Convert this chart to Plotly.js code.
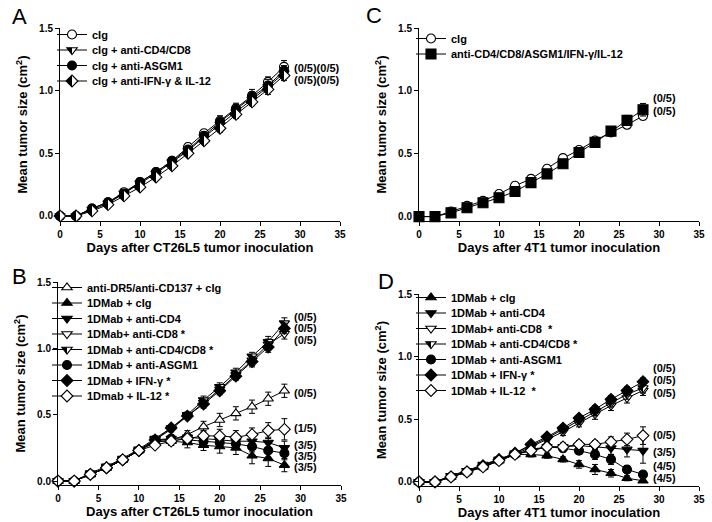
<!DOCTYPE html>
<html>
<head>
<meta charset="utf-8">
<script src="https://cdn.plot.ly/plotly-3.0.1.min.js"></script>
<style>html,body{margin:0;padding:0;background:#fff;}#chart{width:712px;height:522px;}</style>
</head>
<body>
<div id="chart"></div>
<script>
// ---------- DATA ----------
var days = [0,2,4,6,8,10,12,14,16,18,20,22,24,26,28];

// Panel A (CT26L5, control groups)
var aNames = ["cIg", "cIg + anti-CD4/CD8", "cIg + anti-ASGM1", "cIg + anti-IFN-γ & IL-12"];
var aClg   = [0,0,0.06,0.11,0.19,0.27,0.35,0.44,0.55,0.66,0.76,0.86,0.96,1.07,1.19];
var aCD48  = [0,0,0.05,0.10,0.18,0.26,0.34,0.43,0.52,0.63,0.73,0.83,0.93,1.03,1.14];
var aASGM1 = [0,0,0.06,0.11,0.18,0.27,0.35,0.44,0.53,0.64,0.75,0.85,0.95,1.04,1.16];
var aIFN   = [0,0,0.04,0.09,0.16,0.23,0.31,0.40,0.50,0.60,0.70,0.81,0.91,1.01,1.12];
var aClgErr   = [0,0,0.01,0.01,0.02,0.02,0.02,0.02,0.03,0.03,0.04,0.04,0.05,0.04,0.05];
var aCD48Err  = [0,0,0.01,0.01,0.01,0.02,0.02,0.02,0.02,0.03,0.03,0.03,0.04,0.04,0.04];
var aASGM1Err = [0,0,0.01,0.01,0.01,0.02,0.02,0.02,0.02,0.03,0.03,0.04,0.04,0.05,0.04];
var aIFNErr   = [0,0,0.01,0.01,0.01,0.01,0.02,0.02,0.02,0.02,0.03,0.03,0.03,0.04,0.04];
var aLabels = ["(0/5)(0/5)", "(0/5)(0/5)"];
var aLabelY = [1.18, 1.085];

// Panel C (4T1, control groups)
var cNames = ["cIg", "anti-CD4/CD8/ASGM1/IFN-γ/IL-12"];
var cClg = [0,0,0.04,0.085,0.125,0.18,0.245,0.30,0.38,0.465,0.53,0.605,0.67,0.73,0.80];
var cAll = [0,0,0.03,0.07,0.11,0.15,0.20,0.27,0.34,0.42,0.51,0.59,0.68,0.765,0.85];
var cClgErr = [0,0,0.01,0.01,0.01,0.01,0.01,0.01,0.02,0.02,0.02,0.02,0.03,0.03,0.03];
var cAllErr = [0,0,0.01,0.01,0.01,0.01,0.01,0.01,0.01,0.02,0.02,0.02,0.03,0.04,0.05];
var cLabels = ["(0/5)", "(0/5)"];
var cLabelY = [0.94, 0.84];

// Panel B (CT26L5, 1DMab)
var bNames = ["anti-DR5/anti-CD137 + cIg", "1DMab + cIg", "1DMab + anti-CD4", "1DMab+ anti-CD8 *",
              "1DMab + anti-CD4/CD8 *", "1DMab + anti-ASGM1", "1DMab + IFN-γ *", "1Dmab + IL-12 *"];
var bDR5   = [0,0,0.05,0.10,0.16,0.23,0.29,0.31,0.35,0.41,0.46,0.51,0.56,0.62,0.68];
var bClg   = [0,0,0.05,0.10,0.16,0.23,0.30,0.30,0.29,0.27,0.26,0.25,0.19,0.17,0.12];
var bCD4   = [0,0,0.05,0.10,0.16,0.23,0.31,0.32,0.33,0.32,0.31,0.30,0.30,0.29,0.25];
var bCD8   = [0,0,0.05,0.10,0.16,0.23,0.31,0.39,0.49,0.59,0.69,0.80,0.91,1.03,1.11];
var bCD48  = [0,0,0.06,0.11,0.17,0.24,0.32,0.40,0.50,0.61,0.71,0.82,0.94,1.05,1.19];
var bASGM1 = [0,0,0.05,0.10,0.16,0.23,0.30,0.32,0.31,0.30,0.29,0.28,0.26,0.23,0.21];
var bIFN   = [0,0,0.05,0.10,0.16,0.23,0.31,0.40,0.49,0.58,0.68,0.79,0.90,1.01,1.15];
var bIL12  = [0,0,0.05,0.10,0.16,0.23,0.27,0.30,0.32,0.34,0.34,0.33,0.35,0.38,0.39];
var bDR5Err   = [0,0,0.01,0.01,0.01,0.02,0.02,0.02,0.03,0.04,0.05,0.05,0.05,0.05,0.05];
var bClgErr   = [0,0,0.01,0.01,0.01,0.02,0.02,0.03,0.04,0.04,0.05,0.05,0.06,0.06,0.05];
var bCD4Err   = [0,0,0.01,0.01,0.01,0.02,0.02,0.02,0.03,0.03,0.04,0.04,0.04,0.04,0.05];
var bCD8Err   = [0,0,0.01,0.01,0.01,0.02,0.02,0.02,0.02,0.02,0.03,0.03,0.04,0.04,0.04];
var bCD48Err  = [0,0,0.01,0.01,0.01,0.02,0.02,0.02,0.02,0.03,0.03,0.03,0.03,0.04,0.04];
var bASGM1Err = [0,0,0.01,0.01,0.01,0.02,0.02,0.02,0.03,0.03,0.04,0.04,0.04,0.05,0.05];
var bIFNErr   = [0,0,0.01,0.01,0.01,0.02,0.02,0.02,0.02,0.03,0.03,0.03,0.04,0.04,0.04];
var bIL12Err  = [0,0,0.01,0.01,0.01,0.02,0.02,0.03,0.03,0.04,0.05,0.05,0.05,0.06,0.08];
var bLabels = ["(0/5)", "(0/5)", "(0/5)", "(0/5)", "(1/5)", "(3/5)", "(3/5)", "(3/5)"];
var bLabelY = [1.235, 1.15, 1.065, 0.66, 0.40, 0.275, 0.19, 0.105];

// Panel D (4T1, 1DMab)
var dNames = ["1DMab + cIg", "1DMab + anti-CD4", "1DMab+ anti-CD8  *", "1DMab + anti-CD4/CD8 *",
              "1DMab + anti-ASGM1", "1DMab + IFN-γ *", "1DMab + IL-12  *"];
var dClg   = [0,0,0.04,0.08,0.12,0.17,0.22,0.22,0.21,0.18,0.14,0.10,0.07,0.03,0.01];
var dCD4   = [0,0,0.04,0.08,0.12,0.17,0.22,0.25,0.28,0.28,0.29,0.28,0.27,0.26,0.25];
var dCD8   = [0,0,0.05,0.09,0.13,0.18,0.22,0.28,0.34,0.40,0.47,0.54,0.61,0.67,0.73];
var dCD48  = [0,0,0.05,0.09,0.14,0.18,0.23,0.29,0.35,0.42,0.49,0.56,0.63,0.70,0.75];
var dASGM1 = [0,0,0.04,0.08,0.12,0.17,0.22,0.26,0.28,0.27,0.25,0.22,0.18,0.10,0.06];
var dIFN   = [0,0,0.04,0.08,0.13,0.18,0.23,0.30,0.36,0.43,0.51,0.58,0.66,0.73,0.80];
var dIL12  = [0,0,0.04,0.08,0.12,0.17,0.22,0.25,0.28,0.28,0.30,0.30,0.32,0.34,0.37];
var dClgErr   = [0,0,0.01,0.01,0.01,0.01,0.02,0.02,0.02,0.02,0.03,0.04,0.03,0.02,0.01];
var dCD4Err   = [0,0,0.01,0.01,0.01,0.01,0.02,0.02,0.03,0.03,0.04,0.05,0.05,0.06,0.10];
var dCD8Err   = [0,0,0.01,0.01,0.01,0.01,0.02,0.02,0.02,0.03,0.03,0.04,0.04,0.04,0.04];
var dCD48Err  = [0,0,0.01,0.01,0.01,0.01,0.01,0.02,0.02,0.02,0.03,0.03,0.03,0.04,0.04];
var dASGM1Err = [0,0,0.01,0.01,0.01,0.01,0.02,0.02,0.02,0.03,0.03,0.04,0.04,0.03,0.02];
var dIFNErr   = [0,0,0.01,0.01,0.01,0.01,0.01,0.02,0.02,0.02,0.02,0.03,0.03,0.03,0.03];
var dIL12Err  = [0,0,0.01,0.01,0.01,0.01,0.02,0.02,0.02,0.03,0.03,0.03,0.04,0.05,0.07];
var dLabels = ["(0/5)", "(0/5)", "(0/5)", "(0/5)", "(3/5)", "(4/5)", "(4/5)"];
var dLabelY = [0.91, 0.81, 0.71, 0.375, 0.24, 0.125, 0.035];

var xTitles = ["Days after CT26L5 tumor inoculation", "Days after 4T1 tumor inoculation",
               "Days after CT26L5 tumor inoculation", "Days after 4T1 tumor inoculation"];
var yTitle = "Mean tumor size (cm<sup>2</sup>)";
var panelLetters = ["A", "C", "B", "D"];

// ---------- STYLES ----------
var FONT = "Liberation Sans, Arial, Helvetica, sans-serif";
var M = {
  openCircle:  {symbol: "circle", color: "white", size: 9},
  fillCircle:  {symbol: "circle", color: "black", size: 9},
  halfTriDown: {symbol: "triangle-down", color: "black", size: 9, gradient: {type: "horizontal", color: "white"}},
  halfDiamond: {symbol: "diamond", color: "black", size: 9, gradient: {type: "horizontal", color: "white"}},
  fillTriDown: {symbol: "triangle-down", color: "black", size: 9},
  openTriDown: {symbol: "triangle-down", color: "white", size: 9},
  fillTriUp:   {symbol: "triangle-up", color: "black", size: 9},
  openTriUp:   {symbol: "triangle-up", color: "white", size: 9},
  fillDiamond: {symbol: "diamond", color: "black", size: 9},
  openDiamond: {symbol: "diamond", color: "white", size: 9},
  fillSquare:  {symbol: "square", color: "black", size: 10}
};

function mk(name, y, err, style, ax, legend) {
  var mkr = JSON.parse(JSON.stringify(style));
  mkr.line = {color: "black", width: 1.1};
  return {
    type: "scatter", mode: "lines+markers", name: name,
    x: days, y: y,
    xaxis: "x" + ax, yaxis: "y" + ax, legend: legend,
    cliponaxis: false,
    line: {color: "black", width: 1},
    marker: mkr,
    error_y: {type: "data", array: err, visible: true, color: "black", thickness: 1, width: 3}
  };
}

var traces = [
  mk(aNames[0], aClg, aClgErr, M.openCircle, "", "legend"),
  mk(aNames[1], aCD48, aCD48Err, M.halfTriDown, "", "legend"),
  mk(aNames[2], aASGM1, aASGM1Err, M.fillCircle, "", "legend"),
  mk(aNames[3], aIFN, aIFNErr, M.halfDiamond, "", "legend"),

  mk(cNames[0], cClg, cClgErr, M.openCircle, "2", "legend2"),
  mk(cNames[1], cAll, cAllErr, M.fillSquare, "2", "legend2"),

  mk(bNames[0], bDR5, bDR5Err, M.openTriUp, "3", "legend3"),
  mk(bNames[1], bClg, bClgErr, M.fillTriUp, "3", "legend3"),
  mk(bNames[2], bCD4, bCD4Err, M.fillTriDown, "3", "legend3"),
  mk(bNames[3], bCD8, bCD8Err, M.openTriDown, "3", "legend3"),
  mk(bNames[4], bCD48, bCD48Err, M.halfTriDown, "3", "legend3"),
  mk(bNames[5], bASGM1, bASGM1Err, M.fillCircle, "3", "legend3"),
  mk(bNames[6], bIFN, bIFNErr, M.fillDiamond, "3", "legend3"),
  mk(bNames[7], bIL12, bIL12Err, M.openDiamond, "3", "legend3"),

  mk(dNames[0], dClg, dClgErr, M.fillTriUp, "4", "legend4"),
  mk(dNames[1], dCD4, dCD4Err, M.fillTriDown, "4", "legend4"),
  mk(dNames[2], dCD8, dCD8Err, M.openTriDown, "4", "legend4"),
  mk(dNames[3], dCD48, dCD48Err, M.halfTriDown, "4", "legend4"),
  mk(dNames[4], dASGM1, dASGM1Err, M.fillCircle, "4", "legend4"),
  mk(dNames[5], dIFN, dIFNErr, M.fillDiamond, "4", "legend4"),
  mk(dNames[6], dIL12, dIL12Err, M.openDiamond, "4", "legend4")
];

// ---------- LAYOUT ----------
var W = 712, H = 522;
function px(v) { return v / W; }
function py(v) { return 1 - v / H; }

function xax(i, left, right, anchor) {
  return {
    domain: [px(left), px(right)], anchor: anchor, range: [0, 35],
    tickvals: [0,5,10,15,20,25,30,35], ticks: "outside", ticklen: 4, tickwidth: 1,
    tickcolor: "black", showline: true, linecolor: "black", linewidth: 1,
    showgrid: false, zeroline: false,
    tickfont: {family: FONT, size: 10, color: "black", weight: "bold"},
    title: {text: xTitles[i], standoff: 3, font: {family: FONT, size: 13, color: "black", weight: "bold"}}
  };
}
function yax(top, bottom, lo, anchor) {
  return {
    domain: [py(bottom), py(top)], anchor: anchor, range: [lo, 1.5],
    tickvals: [0, 0.5, 1.0, 1.5], tickformat: ".1f", ticks: "outside", ticklen: 4, tickwidth: 1,
    tickcolor: "black", showline: true, linecolor: "black", linewidth: 1,
    showgrid: false, zeroline: false,
    tickfont: {family: FONT, size: 10, color: "black", weight: "bold"},
    title: {text: yTitle, standoff: 8, font: {family: FONT, size: 13, color: "black", weight: "bold"}}
  };
}
function leg(left, top) {
  return {x: px(left), y: py(top), xanchor: "left", yanchor: "top", bgcolor: "rgba(0,0,0,0)",
          borderwidth: 0, itemwidth: 30, tracegroupgap: 0,
          font: {family: FONT, size: 11, color: "black", weight: "bold"}};
}

var annotations = [];
function addLabels(labels, ys, ax, xval) {
  for (var i = 0; i < labels.length; i++) {
    annotations.push({xref: "x" + ax, yref: "y" + ax, x: xval, y: ys[i], text: labels[i],
      showarrow: false, xanchor: "left", yanchor: "middle",
      font: {family: FONT, size: 11, color: "black", weight: "bold"}});
  }
}
addLabels(aLabels, aLabelY, "", 29.0);
addLabels(cLabels, cLabelY, "2", 29.0);
addLabels(bLabels, bLabelY, "3", 28.9);
addLabels(dLabels, dLabelY, "4", 29.0);

var letterPos = [[19, 16], [374, 15], [19, 276], [386, 281]];
for (var k = 0; k < 4; k++) {
  annotations.push({xref: "paper", yref: "paper", x: px(letterPos[k][0]), y: py(letterPos[k][1]),
    text: panelLetters[k], showarrow: false, xanchor: "center", yanchor: "middle",
    font: {family: FONT, size: 22, color: "black"}});
}

var layout = {
  width: W, height: H, margin: {l: 0, r: 0, t: 0, b: 0},
  paper_bgcolor: "white", plot_bgcolor: "white",
  font: {family: FONT, color: "black"},
  showlegend: true,
  xaxis:  xax(0, 60, 340, "y"),
  yaxis:  yax(28, 221, -0.04, "x"),
  xaxis2: xax(1, 419, 699, "y2"),
  yaxis2: yax(28, 221, -0.035, "x2"),
  xaxis3: xax(2, 58, 341, "y3"),
  yaxis3: yax(282, 485, -0.03, "x3"),
  xaxis4: xax(3, 419, 699, "y4"),
  yaxis4: yax(294, 486, -0.032, "x4"),
  legend:  leg(52, 20),
  legend2: leg(411, 24),
  legend3: leg(47, 273),
  legend4: leg(411, 283),
  annotations: annotations
};

Plotly.newPlot("chart", traces, layout, {staticPlot: true}).then(function () {
  // make the gradient symbols half-filled (sharp edge)
  document.querySelectorAll("linearGradient").forEach(function (g) {
    var stops = g.querySelectorAll("stop");
    if (stops.length === 2) {
      stops[0].setAttribute("offset", "50%");
      stops[1].setAttribute("offset", "50%");
    }
  });
  // tighten legend row spacing to match the reference
  ["legend", "legend2", "legend3", "legend4"].forEach(function (id) {
    var items = document.querySelectorAll("g." + id + " g.traces");
    var y0 = null;
    items.forEach(function (it) {
      var t = it.getAttribute("transform") || "";
      var m = t.match(/translate\(\s*([-\d.]+)[ ,]+([-\d.]+)\s*\)/);
      if (!m) return;
      var x = parseFloat(m[1]), y = parseFloat(m[2]);
      if (y0 === null) y0 = y;
      it.setAttribute("transform", "translate(" + x + "," + (y0 + (y - y0) * 15.5 / 19) + ")");
    });
  });
});
</script>
</body>
</html>
